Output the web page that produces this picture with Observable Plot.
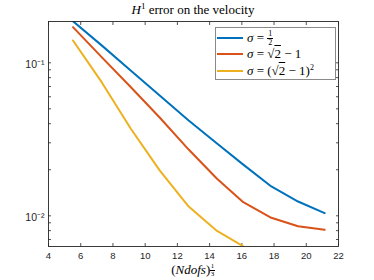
<!DOCTYPE html>
<html><head><meta charset="utf-8">
<script src="https://cdn.jsdelivr.net/npm/d3@7"></script>
<script src="https://cdn.jsdelivr.net/npm/@observablehq/plot@0.6"></script>
<style>
body{margin:0;background:#fff;}
#wrap{position:relative;width:374px;height:280px;overflow:hidden;font-family:"Liberation Serif","DejaVu Serif",serif;color:#000;}
#title{position:absolute;left:0;top:3px;width:386px;text-align:center;font-size:13px;line-height:14px;white-space:nowrap;}
#title sup{font-size:9px;vertical-align:5px;line-height:0;}
#chart{position:absolute;left:0;top:20px;}
#xlabel{position:absolute;left:0;top:263px;width:386px;text-align:center;font-size:13px;line-height:14px;white-space:nowrap;}
.frac{display:inline-flex;flex-direction:column;align-items:center;font-size:7px;line-height:6.5px;font-style:normal;}
.frac .num{border-bottom:0.6px solid #000;padding:0 0.5px;}
#xlabel .frac{vertical-align:6px;}
#legend{position:absolute;left:215px;top:27px;width:121px;height:53px;border:1px solid #8a8a8a;background:#fff;box-sizing:border-box;}
.row{position:absolute;left:1px;height:16px;line-height:16px;font-size:13px;white-space:nowrap;}
.row .sw{display:inline-block;width:26px;height:2px;margin-right:4px;vertical-align:middle;position:relative;top:-1px;}
.ov{text-decoration:overline;}
#legend .frac{vertical-align:middle;font-size:8px;line-height:7.5px;position:relative;top:-1px;}
#legend .frac .num{border-bottom:0.7px solid #000;padding:0 1px;}
#legend sup{font-size:8px;line-height:0;vertical-align:5px;}
</style></head><body>
<div id="wrap">
  <div id="title"><i>H</i><sup>1</sup> error on the velocity</div>
  <div id="chart"></div>
  <div id="xlabel">(<i>Ndofs</i>)<span class="frac"><span class="num">1</span><span>3</span></span></div>
  <div id="legend"></div>
</div>
<script>
// Data
const xVals = [5.52, 7.3, 9.1, 10.9, 12.7, 14.46, 16.09, 17.83, 19.49, 21.14];
const errHalf = [0.187, 0.130, 0.0891, 0.0611, 0.0420, 0.0297, 0.0216, 0.01555, 0.0124, 0.0104];
const errSqrt2m1 = [0.171, 0.109, 0.0695, 0.0439, 0.0271, 0.01746, 0.01227, 0.00971, 0.00855, 0.0081];
const errSqrt2m1Sq = [0.140, 0.0747, 0.0372, 0.0198, 0.0115, 0.00796, 0.00632];
const seriesNames = ["half", "sqrt2m1", "sqrt2m1sq"];
const seriesColors = ["#0072BD", "#D95319", "#EDB120"];
const xTicks = [4, 6, 8, 10, 12, 14, 16, 18, 20, 22];
const yMajor = [0.01, 0.1];
const yMinor = [0.007, 0.008, 0.009, 0.02, 0.03, 0.04, 0.05, 0.06, 0.07, 0.08, 0.09];
const yLabels = ["10⁻²", "10⁻¹"];
const xDomain = [4, 22];
const yDomain = [0.0063, 0.1862];

const allSeries = [errHalf, errSqrt2m1, errSqrt2m1Sq];
const rows = [];
allSeries.forEach((vals, s) => vals.forEach((v, i) => rows.push({x: xVals[i], y: v, s: seriesNames[s]})));

const tickColor = "#262626";
const chart = Plot.plot({
  width: 374, height: 242,
  marginTop: 1, marginBottom: 16, marginLeft: 48, marginRight: 36,
  style: {fontFamily: "'Liberation Sans', Arial, sans-serif", fontSize: "9.5px", color: tickColor, background: "transparent"},
  x: {domain: xDomain},
  y: {type: "log", domain: yDomain},
  color: {domain: seriesNames, range: seriesColors},
  marks: [
    Plot.axisX({ticks: xTicks, tickSize: 0, tickPadding: 6, label: null, tickFormat: d => String(d)}),
    Plot.axisX({ticks: xTicks, tickSize: -3, text: null, label: null, anchor: "bottom", strokeWidth: 0.8}),
    Plot.axisX({ticks: xTicks, tickSize: -3, text: null, label: null, anchor: "top", strokeWidth: 0.8}),
    Plot.axisY({ticks: yMajor, tickSize: 0, tickPadding: 4, label: null, tickFormat: d => yLabels[yMajor.indexOf(d)], dy: 2, fontSize: 10.5}),
    Plot.axisY({ticks: yMajor.concat(yMinor), tickSize: -3, text: null, label: null, anchor: "left", strokeWidth: 0.8}),
    Plot.axisY({ticks: yMajor.concat(yMinor), tickSize: -3, text: null, label: null, anchor: "right", strokeWidth: 0.8}),
    Plot.line(rows, {x: "x", y: "y", z: "s", stroke: "s", strokeWidth: 2, clip: true}),
    Plot.frame({stroke: tickColor, strokeWidth: 0.9})
  ]
});
document.getElementById("chart").appendChild(chart);

// Legend
const legendHtml = [
  '<i>σ</i>&nbsp;=&nbsp;<span class="frac"><span class="num">1</span><span>2</span></span>',
  '<i>σ</i>&nbsp;=&nbsp;√<span class="ov">2</span>&nbsp;−&nbsp;1',
  '<i>σ</i>&nbsp;=&nbsp;(√<span class="ov">2</span>&nbsp;−&nbsp;1)<sup>2</sup>'
];
const legend = document.getElementById("legend");
const rowTops = [2, 18, 35];
legendHtml.forEach((h, i) => {
  const r = document.createElement("div");
  r.className = "row";
  r.style.top = rowTops[i] + "px";
  r.innerHTML = '<span class="sw" style="background:' + seriesColors[i] + '"></span>' + h;
  legend.appendChild(r);
});
</script>
</body></html>
